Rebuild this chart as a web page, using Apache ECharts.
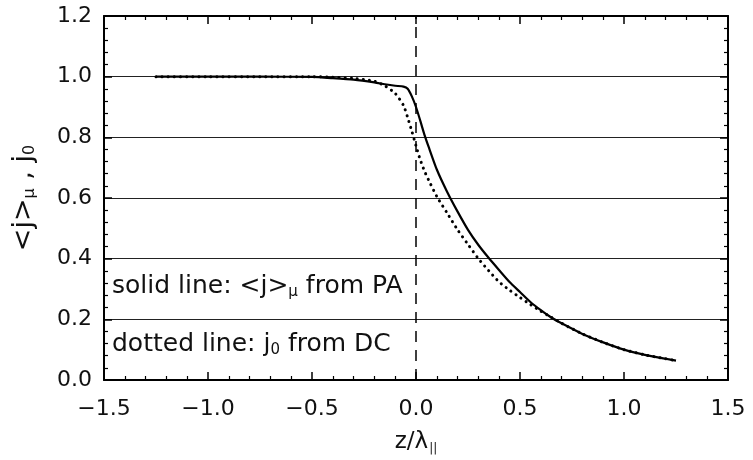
<!DOCTYPE html>
<html>
<head>
<meta charset="utf-8">
<script src="https://cdn.jsdelivr.net/npm/echarts@6/dist/echarts.min.js"></script>
<style>
  html, body { margin: 0; padding: 0; background: #fff; }
  #main { width: 753px; height: 460px; }
</style>
</head>
<body>
<div id="main"></div>
<script>
// z / lambda values (x axis)
var zVals = [-1.25, -1.0, -0.75, -0.5, -0.4, -0.3, -0.2, -0.15, -0.1, -0.06, -0.04, -0.02, 0, 0.02, 0.04, 0.06, 0.1, 0.15, 0.2, 0.25, 0.3, 0.35, 0.4, 0.45, 0.5, 0.55, 0.6, 0.65, 0.7, 0.8, 0.9, 1.0, 1.1, 1.2, 1.25];
// solid line: <j>_mu from PA
var solidVals = [1.0, 1.0, 1.0, 0.999, 0.995, 0.99, 0.981, 0.975, 0.97, 0.967, 0.96, 0.935, 0.9, 0.856, 0.81, 0.77, 0.694, 0.62, 0.555, 0.495, 0.445, 0.402, 0.362, 0.323, 0.29, 0.257, 0.23, 0.206, 0.187, 0.152, 0.124, 0.1, 0.083, 0.07, 0.064];
// dotted line: j_0 from DC
var dottedVals = [1.0, 1.0, 1.0, 1.0, 0.998, 0.994, 0.985, 0.97, 0.945, 0.905, 0.865, 0.82, 0.772, 0.727, 0.69, 0.66, 0.605, 0.55, 0.495, 0.447, 0.4, 0.36, 0.323, 0.296, 0.272, 0.249, 0.227, 0.207, 0.187, 0.152, 0.124, 0.1, 0.083, 0.07, 0.064];
var xTicks = [-1.5, -1.0, -0.5, 0.0, 0.5, 1.0, 1.5];
var yTicks = [0.0, 0.2, 0.4, 0.6, 0.8, 1.0, 1.2];

var FONT = "DejaVu Sans";

function pairs(xs, ys) {
  var out = [];
  for (var i = 0; i < xs.length; i++) out.push([xs[i], ys[i]]);
  return out;
}

function fmt(v) {
  var s = Math.abs(v).toFixed(1);
  return v < -1e-9 ? "\u2212" + s : s;
}

var chart = echarts.init(document.getElementById("main"), null, { renderer: "canvas" });

var axisLine = { show: true, onZero: false, lineStyle: { color: "#000", width: 2 } };
var tick = { show: true, inside: true, length: 8, lineStyle: { color: "#000", width: 1.5 } };
var minor = { show: true, splitNumber: 5, length: 4, lineStyle: { color: "#000", width: 1.2 } };

var option = {
  animation: false,
  backgroundColor: "#fff",
  grid: { left: 104, right: 25, top: 16, bottom: 79 },
  xAxis: [
    {
      type: "value",
      position: "bottom",
      min: xTicks[0],
      max: xTicks[xTicks.length - 1],
      interval: 0.5,
      axisLine: axisLine,
      axisTick: tick,
      minorTick: minor,
      splitLine: { show: false },
      axisLabel: { formatter: fmt, color: "#111", fontFamily: FONT, fontSize: 22, margin: 18 },
      name: "{a|z/\u03bb}{s|||}",
      nameLocation: "middle",
      nameGap: 50,
      nameTextStyle: {
        rich: {
          a: { fontFamily: FONT, fontSize: 23, color: "#111" },
          s: { fontFamily: FONT, fontSize: 12, color: "#111", padding: [13, 0, 0, 1] }
        }
      }
    },
    {
      type: "value",
      position: "top",
      min: xTicks[0],
      max: xTicks[xTicks.length - 1],
      interval: 0.5,
      axisLine: axisLine,
      axisTick: tick,
      minorTick: minor,
      splitLine: { show: false },
      axisLabel: { show: false }
    }
  ],
  yAxis: [
    {
      type: "value",
      position: "left",
      min: yTicks[0],
      max: yTicks[yTicks.length - 1],
      interval: 0.2,
      axisLine: axisLine,
      axisTick: tick,
      minorTick: minor,
      splitLine: { show: true, lineStyle: { color: "#222", width: 1 } },
      axisLabel: { formatter: fmt, color: "#111", fontFamily: FONT, fontSize: 22, margin: 12 },
      name: "{a|<j>}{s|\u03bc}{a| , j}{s|0}",
      nameLocation: "middle",
      nameRotate: 90,
      nameGap: 66,
      nameTextStyle: {
        rich: {
          a: { fontFamily: FONT, fontSize: 27, color: "#111" },
          s: { fontFamily: FONT, fontSize: 16, color: "#111", padding: [12, 0, 0, 0] }
        }
      }
    },
    {
      type: "value",
      position: "right",
      min: yTicks[0],
      max: yTicks[yTicks.length - 1],
      interval: 0.2,
      axisLine: axisLine,
      axisTick: tick,
      minorTick: minor,
      splitLine: { show: false },
      axisLabel: { show: false }
    }
  ],
  graphic: [
    {
      type: "text",
      left: 112,
      top: 274,
      style: {
        text: "{a|solid line: <j>}{s|\u03bc}{a| from PA}",
        rich: {
          a: { fontFamily: FONT, fontSize: 25, fill: "#111" },
          s: { fontFamily: FONT, fontSize: 15, fill: "#111", padding: [12, 0, 0, 0] }
        }
      }
    },
    {
      type: "text",
      left: 112,
      top: 332,
      style: {
        text: "{a|dotted line: j}{s|0}{a| from DC}",
        rich: {
          a: { fontFamily: FONT, fontSize: 25, fill: "#111" },
          s: { fontFamily: FONT, fontSize: 15, fill: "#111", padding: [12, 0, 0, 0] }
        }
      }
    }
  ],
  series: [
    {
      name: "j0 from DC",
      type: "line",
      data: pairs(zVals, dottedVals),
      showSymbol: false,
      smooth: 0.2,
      z: 3,
      lineStyle: { color: "#000", width: 3, type: [0.1, 6], cap: "round" },
      markLine: {
        silent: true,
        symbol: "none",
        label: { show: false },
        lineStyle: { color: "#000", width: 1.5, type: [11, 8] },
        data: [{ xAxis: 0 }]
      }
    },
    {
      name: "<j> from PA",
      type: "line",
      data: pairs(zVals, solidVals),
      showSymbol: false,
      smooth: 0.2,
      z: 4,
      lineStyle: { color: "#000", width: 2.2 }
    }
  ]
};

chart.setOption(option);
</script>
</body>
</html>
